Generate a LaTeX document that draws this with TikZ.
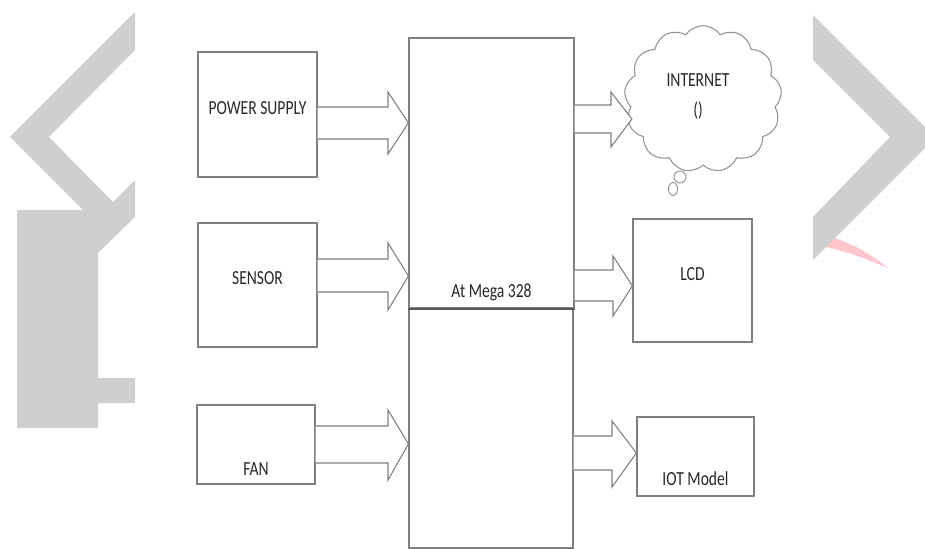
\documentclass[tikz,border=0pt]{standalone}
\usepackage{fontspec}
\newfontfamily\lblfont[FakeStretch=0.78]{Carlito}
\usetikzlibrary{fit,positioning,shapes.symbols}
\definecolor{edgegray}{RGB}{128,128,128}
\definecolor{textgray}{RGB}{40,40,40}
\definecolor{wmgray}{RGB}{207,207,207}
\definecolor{wmpink}{RGB}{255,198,204}

\begin{document}
\begin{tikzpicture}[x=0.75pt, y=-0.75pt,
        box/.style={draw=edgegray, line width=0.9pt, rectangle, inner sep=0pt, fill=white, font=\lblfont\fontsize{15}{17}\selectfont, text=textgray},
        lbl/.style={font=\lblfont\fontsize{15}{17}\selectfont, text=textgray, inner sep=1pt},
        hollow/.style={draw=edgegray, line width=0.8pt, fill=white, line join=miter},
        wmark/.style={fill=wmgray, draw=none}
    ]
    \useasboundingbox (0,0) rectangle (925,549);

    % --- watermark ---
    \fill[wmark] (10,137) -- (135,12) -- (135,50) -- (49,137) -- (113,202) -- (135,180)
        -- (135,217) -- (98,253) -- (98,378) -- (135,378) -- (135,403) -- (98,403)
        -- (98,428) -- (17,428) -- (17,210) -- (83,210) -- cycle;
    \fill[wmpink] (822,234) .. controls (850,242) and (870,253) .. (888,268)
        .. controls (866,259) and (846,251) .. (822,246) -- cycle;
    \fill[wmark] (813,15) -- (925,127) -- (925,148) -- (813,260) -- (813,217)
        -- (890,137) -- (813,60) -- cycle;

    % --- inputs ---
    \node[box, fit={(198,52) (317,177)}] (power) {POWER SUPPLY};
    \node[box, fit={(198,223) (317,347)}] (sensor) {SENSOR};
    \node[box, fit={(197,405) (315,484)}] (fan) {};
    \node[lbl, anchor=base, yshift=6.5pt] (fanlbl) at (fan.south) {FAN};

    % --- controller ---
    \node[box, fit={(409,38) (574,308)}] (mcu) {};
    \node[box, fit={(409,308) (573,548)}] (mculow) {};
    \draw[edgegray!70!black, line width=1.6pt] (mcu.south west) -- (mcu.south east);
    \node[lbl, anchor=base, yshift=8.5pt] (mculbl) at (mcu.south) {At Mega 328};

    % --- outputs ---
    \node[cloud, cloud puffs=13, cloud puff arc=110, aspect=1.1, draw=edgegray!85, line width=0.8pt, fill=white,
        minimum width=118pt, minimum height=110pt] (net) at (703,99) {};
    \draw[edgegray!85, line width=0.7pt, fill=white] (680,177) ellipse (4.5pt and 4.5pt);
    \draw[edgegray!85, line width=0.7pt] (673,189) ellipse (3.4pt and 4.9pt);
    \node[lbl] (netlbl) at (698,80) {INTERNET};
    \node[lbl] (netpar) at (698,111) {()};

    \node[box, fit={(633,219) (752,342)}] (lcd) {LCD};
    \node[box, fit={(637,417) (754,496)}] (iot) {};
    \node[lbl, anchor=base, yshift=8.25pt] (iotlbl) at (iot.south) {IOT Model};

    % --- arrows ---
    \draw[hollow] (power.east |- 0,107) -- (388,107) -- (388,92) -- (mcu.west |- 0,123)
        -- (388,154) -- (388,139) -- (power.east |- 0,139);
    \draw[hollow] (sensor.east |- 0,259) -- (388,259) -- (388,243) -- (mcu.west |- 0,276)
        -- (388,310) -- (388,292) -- (sensor.east |- 0,292);
    \draw[hollow] (fan.east |- 0,426) -- (388,426) -- (388,410) -- (mculow.west |- 0,444)
        -- (388,480) -- (388,463) -- (fan.east |- 0,463);
    \draw[hollow] (mcu.east |- 0,105) -- (611,105) -- (611,92) -- ([xshift=5pt]net.west |- 0,119)
        -- (611,147) -- (611,133) -- (mcu.east |- 0,133);
    \draw[hollow] (mcu.east |- 0,270) -- (613,270) -- (613,256) -- (lcd.west |- 0,286)
        -- (613,316) -- (613,301) -- (mcu.east |- 0,301);
    \draw[hollow] (mculow.east |- 0,436) -- (612,436) -- (612,421) -- (iot.west |- 0,453)
        -- (612,487) -- (612,470) -- (mculow.east |- 0,470);

\end{tikzpicture}
\end{document}
